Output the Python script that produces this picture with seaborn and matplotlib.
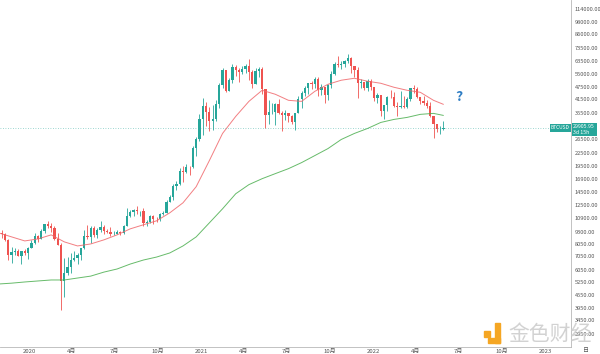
import pandas as pd
import matplotlib
matplotlib.use("Agg")
import matplotlib.pyplot as plt
import matplotlib.dates as mdates
import matplotlib.transforms as mtransforms
from matplotlib.patches import Rectangle
from matplotlib.ticker import FixedLocator, NullLocator
import seaborn as sns

# weekly BTCUSD candles, first week starts 2019-10-28
first_week = "2019-10-28"

opens = [
    9550, 9200, 9040, 8500, 7150, 7400, 7500, 7100, 7500, 7300,
    7760, 8180, 8900, 8590, 9340, 10150, 9900, 9670, 8530, 8030, 5360, 5830, 6240,
    6780, 6900, 7130, 7700, 8900, 8720, 9680, 8910, 9450, 9750, 9380, 9300, 9010,
    9070, 9230, 9160, 9930, 11060, 11580, 11860, 11680, 11700, 10250, 10330, 11080, 10780,
    10670, 11380, 11500, 13030, 13780, 15480, 15960, 18410, 18190, 19360, 19270, 23850, 26440,
    32960, 38150, 35800, 32260, 33100, 39250, 48600, 57500, 45140, 50970, 59000, 57350, 55800,
    58200, 59800, 56200, 49000, 56600, 58200, 46400, 34700, 35600, 35800, 39050, 35500, 34700,
    35300, 34250, 31780, 35400, 41500, 44400, 47050, 49300, 48900, 51800, 46000, 47250, 43200,
    48200, 54600, 61500, 60850, 61300, 63300, 65500, 59700, 57250, 49400, 50100, 46700, 50800,
    47300, 41800, 43100, 36300, 38500, 42400, 42200, 38400, 37700, 38400, 37800, 41300, 46800,
    46400, 42150, 40400, 39450, 38450, 34000, 31300, 29450, 29500,
]
highs = [
    9950, 9500, 9120, 8600, 7850, 7750, 7650, 7520, 7690, 7800,
    8450, 9190, 8980, 9600, 10160, 10500, 10250, 9950, 9190, 8180, 6950, 6960, 7300,
    7460, 7290, 7780, 9470, 10070, 9940, 9900, 9740, 10430, 9990, 9590, 9790, 9370,
    9470, 9330, 10000, 12080, 11900, 12060, 12470, 11800, 12090, 10570, 11180, 11180, 10960,
    11490, 11720, 13350, 14080, 15960, 16480, 18950, 19420, 19920, 19420, 24300, 26900, 34800,
    41950, 40100, 37900, 38500, 40950, 49700, 58350, 57550, 52650, 61700, 60600, 58400, 60100,
    61100, 64850, 57500, 58400, 59500, 59600, 46500, 40900, 39400, 39500, 41300, 36100, 36600,
    35300, 34700, 35400, 42600, 45300, 48100, 49400, 50500, 52900, 52900, 48800, 47350, 49200,
    56600, 62900, 67000, 63700, 64300, 69000, 66300, 59900, 59200, 51950, 50100, 51900, 52100,
    47600, 44400, 43500, 38900, 42700, 45800, 44800, 40000, 45400, 42600, 42300, 46900, 48200,
    47200, 42400, 42900, 40800, 40000, 34250, 31300, 30600, 32400,
]
lows = [
    8950, 8700, 8400, 6790, 6520, 7150, 7080, 6430, 7130, 6870,
    7700, 8100, 8240, 8570, 9150, 9700, 9300, 8450, 8000, 3850, 4450, 5700, 5860,
    6720, 6460, 6780, 7690, 8530, 8200, 8800, 8640, 9270, 9060, 9180, 8820, 8930,
    9030, 9000, 9090, 9880, 10960, 11130, 11300, 11120, 9880, 9880, 10260, 10140, 10370,
    10530, 11200, 11420, 12980, 13240, 14830, 15800, 16200, 18000, 17620, 19000, 21850, 25900,
    27700, 30400, 28850, 29300, 32300, 37350, 47050, 44900, 45100, 49300, 53500, 50350, 54900,
    55450, 51000, 47000, 48800, 53000, 43800, 30000, 31200, 34800, 31000, 34900, 28800, 32700,
    32100, 31100, 29300, 35300, 37500, 42800, 43950, 46300, 46600, 42800, 43400, 39600, 40800,
    46900, 54200, 59500, 58000, 59400, 62300, 55600, 53300, 42000, 46800, 45600, 45500, 45700,
    40600, 39600, 34000, 32900, 36200, 41700, 38000, 34300, 37500, 37200, 37600, 40500, 44200,
    41900, 39200, 38550, 37600, 33700, 26700, 28650, 28000, 29300,
]
closes = [
    9200, 9040, 8500, 7150, 7400, 7500, 7100, 7500, 7300, 7760,
    8180, 8900, 8590, 9340, 10150, 9900, 9670, 8530, 8030, 5360, 5830, 6240, 6780,
    6900, 7130, 7700, 8900, 8720, 9680, 8910, 9450, 9750, 9380, 9300, 9010, 9070,
    9230, 9160, 9930, 11060, 11580, 11860, 11680, 11700, 10250, 10330, 11080, 10780, 10670,
    11380, 11500, 13030, 13780, 15480, 15960, 18410, 18190, 19360, 19270, 23850, 26440, 32960,
    38150, 35800, 32260, 33100, 39250, 48600, 57500, 45140, 50970, 59000, 57350, 55800, 58200,
    59800, 56200, 49000, 56600, 58200, 46400, 34700, 35600, 35800, 39050, 35500, 34700, 35300,
    34250, 31780, 35400, 41500, 44400, 47050, 49300, 48900, 51800, 46000, 47250, 43200, 48200,
    54600, 61500, 60850, 61300, 63300, 65500, 59700, 57250, 49400, 50100, 46700, 50800, 47300,
    41800, 43100, 36300, 38500, 42400, 42200, 38400, 37700, 38400, 37800, 41300, 46800, 46400,
    42150, 40400, 39450, 38450, 34000, 31300, 29450, 29500, 29905.95,
]

# moving averages (every 4 weeks)
ma_dates = [
    "2019-10-28", "2019-11-25", "2019-12-23", "2020-01-20", "2020-02-17", "2020-03-16",
    "2020-04-13", "2020-05-11", "2020-06-08", "2020-07-06", "2020-08-03", "2020-08-31",
    "2020-09-28", "2020-10-26", "2020-11-23", "2020-12-21", "2021-01-18", "2021-02-15",
    "2021-03-15", "2021-04-12", "2021-05-10", "2021-06-07", "2021-07-05", "2021-08-02",
    "2021-08-30", "2021-09-27", "2021-10-25", "2021-11-22", "2021-12-20", "2022-01-17",
    "2022-02-14", "2022-03-14", "2022-04-11", "2022-05-09", "2022-05-30",
]
ma_fast = [
    9180, 8770, 8380, 8570, 8970, 8290, 7920, 8100, 8480, 8970,
    9600, 10050, 10510, 11500, 12870, 15430, 20700, 28090, 34030, 40300,
    45650, 43650, 40780, 40300, 45120, 48850, 51120, 52270, 50530, 49410,
    47230, 45650, 44630, 40780, 38980,
]
ma_slow = [
    5160, 5210, 5280, 5340, 5400, 5400, 5520, 5640, 5900, 6110,
    6460, 6760, 6990, 7320, 7920, 8770, 10270, 12030, 14250, 15790,
    16880, 17870, 18900, 20240, 21900, 23700, 26240, 28090, 29710, 31790,
    32890, 33650, 34820, 35200, 34410,
]

price_ticks = [114000, 98000, 86000, 73500, 63500, 55000, 47500, 41500, 35500,
               26500, 22500, 19500, 16900, 14500, 12500, 10900, 9300, 8050, 7050,
               6050, 5250, 4550, 3950, 3450, 2950]
date_ticks = ["2020-01-01", "2020-04-01", "2020-07-01", "2020-10-01",
              "2021-01-01", "2021-04-01", "2021-07-01", "2021-10-01",
              "2022-01-01", "2022-04-01", "2022-07-01", "2022-10-01", "2023-01-01"]
date_labels = ["2020", "4月", "7月", "10月", "2021", "4月", "7月", "10月",
               "2022", "4月", "7月", "10月", "2023"]

UP = "#26a69a"
DOWN = "#ef5350"

df = pd.DataFrame({"open": opens, "high": highs, "low": lows, "close": closes})
df["date"] = pd.date_range(first_week, periods=len(df), freq="7D")
df["up"] = df["close"] >= df["open"]
df["color"] = df["up"].map({True: UP, False: DOWN})

ma = pd.DataFrame({"date": pd.to_datetime(ma_dates), "fast": ma_fast, "slow": ma_slow})

sns.set_style("white")
plt.rcParams["font.family"] = ["Noto Sans CJK SC", "DejaVu Sans"]

fig = plt.figure(figsize=(6, 3.54), dpi=100)
ax = fig.add_axes([0, 7 / 354, 571 / 600, 347 / 354])
ax.set_yscale("log")

# candles
ax.vlines(df["date"], df["low"], df["high"], colors=df["color"], linewidth=0.6)
body_lo = df[["open", "close"]].min(axis=1)
body_hi = df[["open", "close"]].max(axis=1)
ax.bar(df["date"], body_hi - body_lo, bottom=body_lo, width=4.8,
       color=df["color"], linewidth=0)

# moving averages
sns.lineplot(data=ma, x="date", y="fast", ax=ax, color="#f0686c", linewidth=0.7, alpha=0.85)
sns.lineplot(data=ma, x="date", y="slow", ax=ax, color="#4caf50", linewidth=0.7, alpha=0.85)

last = closes[-1]
ax.axhline(last, color=UP, linewidth=0.6, linestyle=(0, (1, 2)), alpha=0.6)

ax.set_xlim(mdates.date2num(pd.Timestamp("2019-10-31 09:00")),
            mdates.date2num(pd.Timestamp("2023-02-25")))
ax.set_ylim(2540, 126100)

ax.yaxis.tick_right()
ax.yaxis.set_major_locator(FixedLocator(price_ticks))
ax.yaxis.set_minor_locator(NullLocator())
ax.set_yticklabels([f"{v:.2f}" for v in price_ticks])
ax.set_xticks(mdates.date2num(pd.to_datetime(date_ticks)))
ax.set_xticklabels(date_labels)
ax.tick_params(axis="y", length=0, pad=2.5, labelsize=4.1, labelcolor="#555555")
ax.tick_params(axis="x", length=0, pad=1.2, labelsize=4.3, labelcolor="#555555")
ax.set_xlabel("")
ax.set_ylabel("")
for side in ["top", "left"]:
    ax.spines[side].set_visible(False)
for side in ["right", "bottom"]:
    ax.spines[side].set_color("#b8b8b8")
    ax.spines[side].set_linewidth(0.6)

# price labels on the scale
trans = mtransforms.blended_transform_factory(ax.transAxes, ax.transData)
ax.text(0.998, last, "BTCUSD", transform=trans, ha="right", va="center",
        fontsize=3.5, color="white",
        bbox=dict(boxstyle="square,pad=0.3", fc=UP, ec="none"))
ax.text(1.004, last, f"{last:.2f}\n3d 15h",
        transform=mtransforms.offset_copy(trans, fig=fig, y=3.5, units="dots"),
        ha="left", va="top", fontsize=3.8, color="white", linespacing=1.05,
        bbox=dict(boxstyle="square,pad=0.3", fc=UP, ec="none"))

fig.text(459 / 600, 1 - 97 / 354, "?", color="#2e7dc4", fontsize=10,
         fontweight="bold", ha="center", va="center")
fig.text(586 / 600, 1 - 351 / 354, "日", color="#555555", fontsize=4.3,
         ha="center", va="center")

# watermark
for x0, y0, w, h in [(484, 331, 6, 6), (495, 323, 5, 20), (488, 338, 12, 5)]:
    fig.patches.append(Rectangle((x0 / 600, 1 - (y0 + h) / 354), w / 600, h / 354,
                                 transform=fig.transFigure, color="#f5a623", zorder=5))
fig.text(550 / 600, 1 - 334 / 354, "金色财经", color="#d2d2d2", fontsize=15,
         ha="center", va="center", zorder=5)

fig.savefig("out.png", dpi=100)
